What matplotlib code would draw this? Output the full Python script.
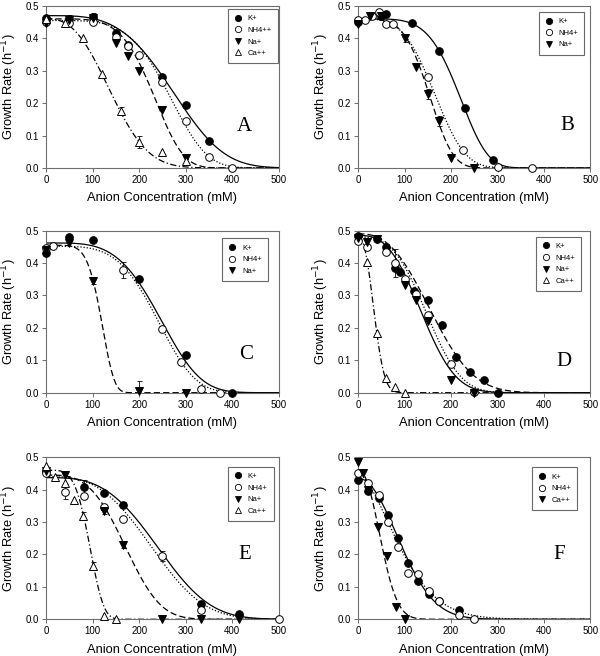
import matplotlib
matplotlib.use('Agg')
import matplotlib.pyplot as plt
from matplotlib.lines import Line2D
import numpy as np

plt.rcParams['font.family'] = ['Liberation Sans', 'DejaVu Sans']

# ---- data (x in mM, y in h^-1) ----
# fits are stored as (top, x0, n) for y = top * exp(-(x / x0) ** n)

# panel A
a_k_x = [0, 50, 100, 150, 175, 250, 300, 350]
a_k_y = [0.462, 0.46, 0.466, 0.415, 0.38, 0.28, 0.193, 0.084]
a_k_err = [0, 0.012, 0.012, 0, 0, 0, 0, 0]
a_k_fit = (0.47, 302, 3.6)
a_n_x = [0, 50, 100, 150, 175, 200, 250, 300, 350, 400]
a_n_y = [0.45, 0.447, 0.45, 0.405, 0.375, 0.35, 0.265, 0.145, 0.035, 0.0]
a_n_fit = (0.455, 285.5, 4.6)
a_na_x = [0, 50, 100, 150, 175, 200, 250, 300]
a_na_y = [0.447, 0.458, 0.462, 0.387, 0.345, 0.30, 0.18, 0.03]
a_na_fit = (0.46, 247, 5.0)
a_ca_x = [0, 40, 80, 120, 160, 200, 250, 300]
a_ca_y = [0.46, 0.448, 0.40, 0.29, 0.175, 0.08, 0.05, 0.02]
a_ca_err = [0, 0, 0, 0, 0.012, 0.018, 0, 0]
a_ca_fit = (0.46, 161.5, 2.6)

# panel B
b_k_x = [0, 50, 60, 115, 175, 230, 290]
b_k_y = [0.45, 0.468, 0.475, 0.447, 0.36, 0.186, 0.025]
b_k_err = [0, 0.01, 0, 0, 0, 0, 0]
b_k_fit = (0.46, 233, 4.9)
b_n_x = [0, 15, 30, 45, 60, 75, 150, 225, 300, 375]
b_n_y = [0.455, 0.455, 0.47, 0.48, 0.445, 0.443, 0.28, 0.055, 0.004, 0.0]
b_n_fit = (0.46, 182, 3.6)
b_na_x = [0, 25, 50, 100, 125, 150, 175, 200, 250]
b_na_y = [0.445, 0.47, 0.47, 0.40, 0.31, 0.228, 0.145, 0.032, 0.0]
b_na_err = [0, 0, 0, 0.012, 0, 0.015, 0.015, 0, 0]
b_na_fit = (0.46, 166, 4.2)

# panel C
c_k_x = [0, 50, 100, 200, 300, 400]
c_k_y = [0.43, 0.48, 0.47, 0.35, 0.115, 0.0]
c_k_fit = (0.462, 268, 4.0)
c_n_x = [0, 15, 166, 250, 290, 332, 373]
c_n_y = [0.445, 0.452, 0.378, 0.196, 0.095, 0.011, 0.0]
c_n_err = [0, 0, 0.025, 0.008, 0, 0, 0]
c_n_fit = (0.452, 261, 4.2)
c_na_x = [0, 50, 100, 200, 300]
c_na_y = [0.44, 0.463, 0.345, 0.006, 0.0]
c_na_err = [0, 0, 0.01, 0.03, 0]
c_na_fit = (0.455, 126, 5.9)

# panel D
d_k_x = [0, 40, 60, 80, 90, 120, 150, 180, 210, 240, 270, 300]
d_k_y = [0.485, 0.474, 0.451, 0.385, 0.373, 0.314, 0.286, 0.209, 0.111, 0.065, 0.039, 0.0]
d_k_fit = (0.49, 183, 2.6)
d_n_x = [0, 20, 60, 80, 100, 125, 150, 200, 250]
d_n_y = [0.468, 0.45, 0.435, 0.40, 0.351, 0.305, 0.24, 0.09, 0.001]
d_n_err = [0, 0, 0, 0.042, 0, 0, 0, 0, 0]
d_n_fit = (0.48, 168, 3.0)
d_na_x = [0, 20, 40, 100, 125, 150, 200, 250]
d_na_y = [0.477, 0.464, 0.474, 0.332, 0.286, 0.221, 0.039, 0.0]
d_na_fit = (0.485, 157, 2.8)
d_ca_x = [20, 40, 60, 80, 100]
d_ca_y = [0.402, 0.183, 0.044, 0.016, 0.0]
d_ca_fit = (0.48, 40.8, 2.4)

# panel E
e_k_x = [0, 82, 124, 166, 332, 415]
e_k_y = [0.459, 0.409, 0.391, 0.353, 0.047, 0.017]
e_k_err = [0, 0.022, 0, 0.008, 0, 0]
e_k_fit = (0.437, 271.5, 3.16)
e_n_x = [0, 41, 82, 124, 166, 250, 332, 500]
e_n_y = [0.45, 0.394, 0.38, 0.345, 0.309, 0.195, 0.029, 0.0]
e_n_err = [0, 0.022, 0, 0, 0, 0.015, 0, 0]
e_n_fit = (0.44, 258, 3.0)
e_na_x = [0, 41, 124, 166, 250, 332, 415]
e_na_y = [0.456, 0.445, 0.334, 0.228, 0.0, 0.0, 0.0]
e_na_err = [0, 0, 0.01, 0.008, 0, 0, 0]
e_na_fit = (0.445, 191, 3.3)
e_ca_x = [0, 20, 41, 60, 80, 100, 124, 150]
e_ca_y = [0.473, 0.44, 0.42, 0.368, 0.32, 0.165, 0.01, 0.002]
e_ca_err = [0, 0, 0, 0, 0.012, 0.012, 0, 0]
e_ca_fit = (0.46, 101.5, 4.4)

# panel F
f_k_x = [0, 21, 44, 64, 86, 108, 129, 152, 173, 217]
f_k_y = [0.43, 0.396, 0.375, 0.322, 0.25, 0.175, 0.119, 0.078, 0.055, 0.029]
f_k_fit = (0.435, 115, 2.04)
f_n_x = [0, 21, 44, 64, 86, 107, 129, 152, 173, 217, 249]
f_n_y = [0.45, 0.422, 0.384, 0.301, 0.222, 0.144, 0.14, 0.088, 0.055, 0.013, 0.0]
f_n_fit = (0.45, 112, 1.62)
f_ca_x = [0, 11, 21, 43, 62, 81, 100]
f_ca_y = [0.485, 0.45, 0.40, 0.284, 0.196, 0.037, 0.0]
f_ca_fit = (0.46, 60, 2.2)

SOLID = '-'
DOT = (0, (1, 1.5))
DASH = (0, (5, 2.5))
DASHDOT = (0, (5, 2, 1, 2))

MARKERS = {
    'fill_o': ('o', 'black'),
    'open_o': ('o', 'white'),
    'fill_v': ('v', 'black'),
    'open_^': ('^', 'white'),
}

# (label, x, y, err, fit, marker, linestyle)
panels = [
    ('A', [('K+', a_k_x, a_k_y, a_k_err, a_k_fit, 'fill_o', SOLID),
           ('NH4++', a_n_x, a_n_y, None, a_n_fit, 'open_o', DOT),
           ('Na+', a_na_x, a_na_y, None, a_na_fit, 'fill_v', DASH),
           ('Ca++', a_ca_x, a_ca_y, a_ca_err, a_ca_fit, 'open_^', DASHDOT)]),
    ('B', [('K+', b_k_x, b_k_y, b_k_err, b_k_fit, 'fill_o', SOLID),
           ('NH4+', b_n_x, b_n_y, None, b_n_fit, 'open_o', DOT),
           ('Na+', b_na_x, b_na_y, b_na_err, b_na_fit, 'fill_v', DASH)]),
    ('C', [('K+', c_k_x, c_k_y, None, c_k_fit, 'fill_o', SOLID),
           ('NH4+', c_n_x, c_n_y, c_n_err, c_n_fit, 'open_o', DOT),
           ('Na+', c_na_x, c_na_y, c_na_err, c_na_fit, 'fill_v', DASH)]),
    ('D', [('K+', d_k_x, d_k_y, None, d_k_fit, 'fill_o', DASH),
           ('NH4+', d_n_x, d_n_y, d_n_err, d_n_fit, 'open_o', DOT),
           ('Na+', d_na_x, d_na_y, None, d_na_fit, 'fill_v', SOLID),
           ('Ca++', d_ca_x, d_ca_y, None, d_ca_fit, 'open_^', DASHDOT)]),
    ('E', [('K+', e_k_x, e_k_y, e_k_err, e_k_fit, 'fill_o', SOLID),
           ('NH4+', e_n_x, e_n_y, e_n_err, e_n_fit, 'open_o', DOT),
           ('Na+', e_na_x, e_na_y, e_na_err, e_na_fit, 'fill_v', DASH),
           ('Ca++', e_ca_x, e_ca_y, e_ca_err, e_ca_fit, 'open_^', DASHDOT)]),
    ('F', [('K+', f_k_x, f_k_y, None, f_k_fit, 'fill_o', SOLID),
           ('NH4+', f_n_x, f_n_y, None, f_n_fit, 'open_o', DOT),
           ('Ca++', f_ca_x, f_ca_y, None, f_ca_fit, 'fill_v', DASH)]),
]

# layout (figure fractions) and per-panel placement of letter / legend
axes_rect = [
    [0.0767, 0.744, 0.388, 0.247], [0.597, 0.744, 0.387, 0.247],
    [0.0767, 0.4014, 0.388, 0.247], [0.597, 0.4014, 0.387, 0.247],
    [0.0767, 0.056, 0.388, 0.247], [0.597, 0.056, 0.387, 0.247],
]
letter_pos = [(427, 0.127), (451, 0.13), (429, 0.119), (442, 0.096), (427, 0.2), (432, 0.2)]
legend_anchor = [(0.996, 0.981), (0.974, 0.963), (0.953, 0.953),
                 (0.961, 0.963), (0.978, 0.942), (0.944, 0.938)]

fig = plt.figure(figsize=(6, 6.56), dpi=100)
xx = np.linspace(0, 500, 1001)
spine_col = '#6e6e6e'

for i, (letter, series) in enumerate(panels):
    ax = fig.add_axes(axes_rect[i])
    handles, labels = [], []
    for label, x, y, err, fit, mk, ls in series:
        top, x0, n = fit
        ax.plot(xx, top * np.exp(-(xx / x0) ** n), color='black', lw=0.9, ls=ls, zorder=2)
        if err is not None:
            e = np.array(err)
            m = e > 0
            ax.errorbar(np.array(x)[m], np.array(y)[m], yerr=e[m], fmt='none', ecolor='black',
                        elinewidth=0.6, capsize=1.8, capthick=0.6, zorder=2.5)
        marker, face = MARKERS[mk]
        ax.plot(x, y, ls='none', marker=marker, ms=5.5, mfc=face, mec='black', mew=0.7,
                clip_on=False, zorder=3)
        handles.append(Line2D([], [], ls='none', marker=marker, ms=4.5, mfc=face,
                              mec='black', mew=0.6))
        labels.append(label)

    ax.set_xlim(0, 500)
    ax.set_ylim(0, 0.5)
    ax.set_xticks(range(0, 501, 100))
    ax.set_yticks(np.arange(0, 0.51, 0.1))
    ax.set_yticklabels([f'{v:.1f}' for v in np.arange(0, 0.51, 0.1)])
    ax.tick_params(direction='out', length=3, width=0.7, labelsize=7, pad=2,
                   color=spine_col, top=False, right=False)
    for s in ax.spines.values():
        s.set_color(spine_col)
        s.set_linewidth(0.8)

    ax.set_xlabel('Anion Concentration (mM)', fontsize=9.25)
    ax.set_ylabel('Growth Rate (h$^{-1}$)', fontsize=9.25)
    ax.xaxis.set_label_coords(0.5, -0.15)
    ax.yaxis.set_label_coords(-0.118, 0.5)

    lx, ly = letter_pos[i]
    ax.text(lx, ly, letter, family='Liberation Serif', fontsize=15,
            ha='center', va='center')

    leg = ax.legend(handles, labels, loc='upper right', bbox_to_anchor=legend_anchor[i],
                    borderaxespad=0, fontsize=5.5, frameon=True, fancybox=False,
                    handlelength=1.0, handletextpad=0.8, labelspacing=0.55,
                    borderpad=0.8)
    leg.get_frame().set_edgecolor('#444444')
    leg.get_frame().set_linewidth(0.8)

fig.savefig('out.png', dpi=100)
